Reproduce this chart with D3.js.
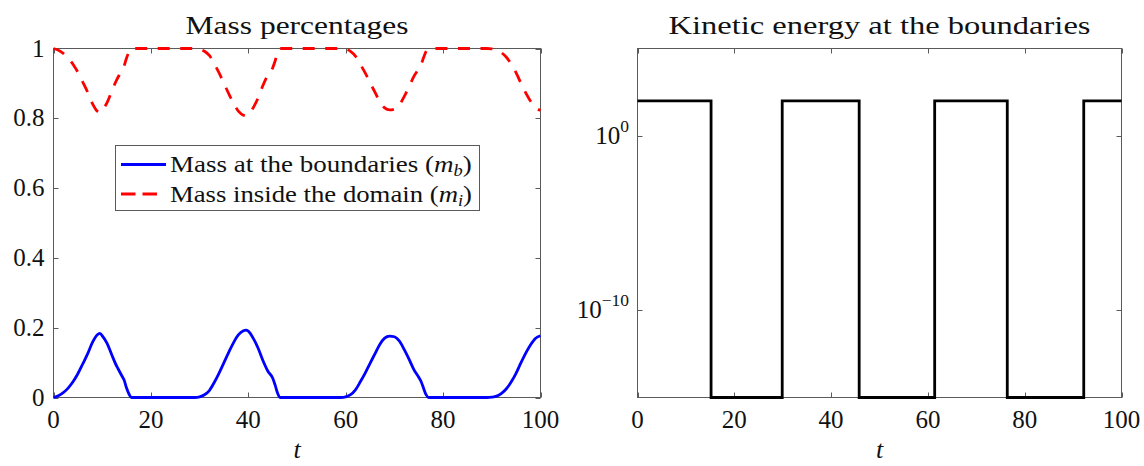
<!DOCTYPE html>
<html><head><meta charset="utf-8">
<script src="https://cdn.jsdelivr.net/npm/d3@7"></script>
<style>
body{margin:0;background:#fff;}
text{font-family:"Liberation Serif","DejaVu Serif",serif;fill:#111;}
</style></head>
<body><svg id="c" width="1144" height="466"></svg>
<script>
// ---------- data ----------
const massT = [0,1,2,3,4,5,6,7,8,9,9.5,10,11,12,13,13.5,14,14.5,15,15.5,16,
  20,25,29,30,31,32,33,34,35,36,37,38,39,39.5,40,41,42,43,44,45,45.5,46,46.5,
  50,55,59,60,61,62,63,64,65,66,67,68,69,70,71,72,73,74,75,75.5,76,76.5,77,
  80,85,89,90,91,92,93,94,95,96,97,98,99,100];
const massBoundary = [0,0.005,0.014,0.027,0.045,0.068,0.096,0.125,0.158,0.18,0.184,0.177,0.155,0.121,0.089,0.076,0.063,0.05,0.027,0.01,0,
  0,0,0,0.002,0.008,0.02,0.043,0.07,0.1,0.13,0.158,0.18,0.191,0.193,0.19,0.17,0.142,0.106,0.076,0.056,0.036,0.013,0,
  0,0,0,0.002,0.008,0.022,0.045,0.07,0.098,0.125,0.152,0.17,0.176,0.174,0.162,0.138,0.11,0.08,0.058,0.045,0.026,0.008,0,
  0,0,0,0.001,0.004,0.012,0.025,0.045,0.07,0.1,0.128,0.152,0.17,0.177];
const massInside = [1,0.995,0.986,0.973,0.955,0.932,0.904,0.875,0.842,0.82,0.816,0.823,0.845,0.879,0.911,0.924,0.937,0.95,0.973,0.99,1,
  1,1,1,0.998,0.992,0.98,0.957,0.93,0.9,0.87,0.842,0.82,0.809,0.807,0.81,0.83,0.858,0.894,0.924,0.944,0.964,0.987,1,
  1,1,1,0.998,0.992,0.978,0.955,0.93,0.902,0.875,0.848,0.83,0.824,0.826,0.838,0.862,0.89,0.92,0.942,0.955,0.974,0.992,1,
  1,1,1,0.999,0.996,0.988,0.975,0.955,0.93,0.9,0.872,0.848,0.83,0.823];
const keT = [0,15.2,29.9,45.8,61.4,76.4,92.2,100];
const keValues = [1e2,1e-15,1e2,1e-15,1e2,1e-15,1e2,1e2];
const xTicks = [0,20,40,60,80,100];
const massTicks = [0,0.2,0.4,0.6,0.8,1];
const keTicks = [1,1e-10];
const titles = ["Mass percentages","Kinetic energy at the boundaries"];
const legendLabels = [["Mass at the boundaries (","m","b",")"],["Mass inside the domain (","m","i",")"]];

// ---------- layout ----------
const svg = d3.select("#c");
svg.append("rect").attr("width",1144).attr("height",466).attr("fill","#fff");
const yTop = 48.5, yBot = 397.5;
const axColor = "#5a5a5a";
const tickFont = 25;

// scale a text horizontally so its width equals target
function fit(textSel, target){
  const w = textSel.node().getComputedTextLength();
  return w > 0 ? target / w : 1;
}

function frame(g, x, y, yTicks, yFmt){
  const [x0,x1] = x.range();
  g.append("rect").attr("x",x0).attr("y",yTop).attr("width",x1-x0).attr("height",yBot-yTop)
    .attr("fill","none").attr("stroke",axColor).attr("stroke-width",1);
  xTicks.forEach(t=>{
    const px = Math.round(x(t))+0.5;
    g.append("line").attr("x1",px).attr("x2",px).attr("y1",yBot).attr("y2",yBot-5).attr("stroke",axColor);
    g.append("line").attr("x1",px).attr("x2",px).attr("y1",yTop).attr("y2",yTop+5).attr("stroke",axColor);
    g.append("text").attr("x",x(t)).attr("y",428).attr("text-anchor","middle")
      .attr("font-size",tickFont).text(t);
  });
  yTicks.forEach(v=>{
    const py = Math.round(y(v))+0.5;
    g.append("line").attr("x1",x0).attr("x2",x0+5).attr("y1",py).attr("y2",py).attr("stroke",axColor);
    g.append("line").attr("x1",x1).attr("x2",x1-5).attr("y1",py).attr("y2",py).attr("stroke",axColor);
    yFmt(g, y(v), v);
  });
  g.append("text").attr("x",(x0+x1)/2).attr("y",458).attr("text-anchor","middle")
    .attr("font-size",26).attr("font-style","italic").text("t");
}

function title(g, cx, txt, width){
  const gg = g.append("g");
  const t = gg.append("text").attr("x",0).attr("y",0).attr("text-anchor","middle")
    .attr("font-size",25.5).text(txt);
  gg.attr("transform",`translate(${cx},34) scale(${fit(t,width)},1)`);
}

// ---------- left chart ----------
const xL = d3.scaleLinear().domain([0,100]).range([53.5,540.5]);
const yL = d3.scaleLinear().domain([0,1]).range([yBot,yTop]);
const gL = svg.append("g");
frame(gL, xL, yL, massTicks, (g,y,v)=>{
  g.append("text").attr("x",44.5).attr("y",y+8).attr("text-anchor","end").attr("font-size",tickFont).text(String(v));
});
title(gL, 297, titles[0], 223);

const lineL = d3.line().x((d,i)=>xL(massT[i])).y(d=>yL(d)).curve(d3.curveMonotoneX);
gL.append("path").attr("d",lineL(massBoundary)).attr("fill","none").attr("stroke","#0000ff")
  .attr("stroke-width",2.8).attr("stroke-linejoin","round");
gL.append("path").attr("d",lineL(massInside)).attr("fill","none").attr("stroke","#ff0000")
  .attr("stroke-width",2.8).attr("stroke-dasharray","12,10.5");

// legend
const lg = gL.append("g");
lg.append("rect").attr("x",115.5).attr("y",145.5).attr("width",364).attr("height",65)
  .attr("fill","#fff").attr("stroke",axColor).attr("stroke-width",1);
const legColors = ["#0000ff","#ff0000"];
const legRows = [164.5, 194];
legendLabels.forEach((lab,i)=>{
  const yy = legRows[i];
  lg.append("line").attr("x1",121).attr("x2",i===1?157:166).attr("y1",yy).attr("y2",yy)
    .attr("stroke",legColors[i]).attr("stroke-width",2.8)
    .attr("stroke-dasharray", i===1 ? "14.5,7" : null);
  const gg = lg.append("g");
  const t = gg.append("text").attr("x",0).attr("y",0).attr("font-size",23.5);
  t.append("tspan").text(lab[0]);
  t.append("tspan").attr("font-style","italic").text(lab[1]);
  t.append("tspan").attr("font-style","italic").attr("font-size",16).attr("dy",4).text(lab[2]);
  t.append("tspan").attr("dy",-4).text(lab[3]);
  const w = t.node().getBBox().width;
  gg.attr("transform",`translate(170,${yy+7.5}) scale(${302/w},1)`);
});

// ---------- right chart ----------
const xR = d3.scaleLinear().domain([0,100]).range([637.5,1121.5]);
const yR = d3.scaleLog().domain([1e-15,1e5]).range([yBot,yTop]);
const gR = svg.append("g");
frame(gR, xR, yR, keTicks, (g,y,v)=>{
  const e = Math.round(Math.log10(v));
  const t = g.append("text").attr("x",629).attr("y",y+8).attr("text-anchor","end").attr("font-size",tickFont);
  t.append("tspan").text("10");
  t.append("tspan").attr("font-size",17.5).attr("dy",-12).text(e===0?"0":"\u2212"+Math.abs(e));
});
title(gR, 879.5, titles[1], 422);
const lineR = d3.line().x((d,i)=>xR(keT[i])).y(d=>yR(d)).curve(d3.curveStepAfter);
gR.append("path").attr("d",lineR(keValues)).attr("fill","none").attr("stroke","#000")
  .attr("stroke-width",2.8).attr("stroke-linejoin","miter");
</script></body></html>
